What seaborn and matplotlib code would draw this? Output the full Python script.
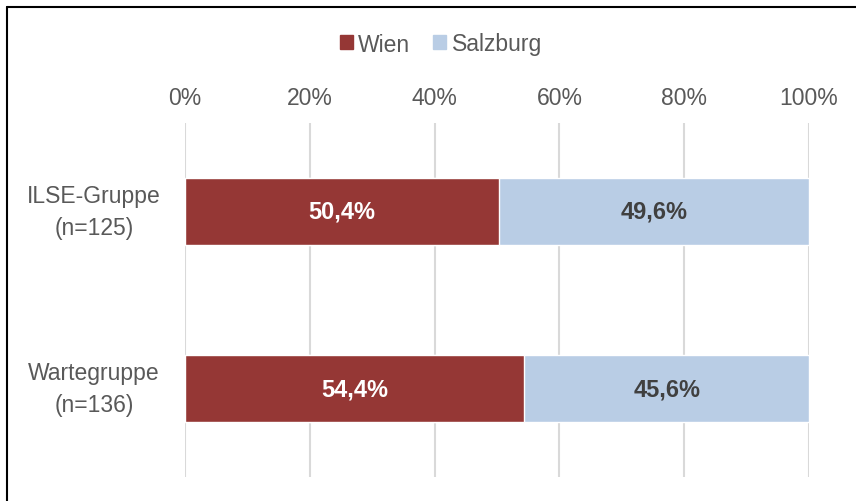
import matplotlib
matplotlib.use("Agg")
import matplotlib.pyplot as plt
import matplotlib.transforms as mtransforms
import seaborn as sns
import pandas as pd
import numpy as np
from matplotlib.patches import Rectangle

categories = ["ILSE-Gruppe\n(n=125)", "Wartegruppe\n(n=136)"]
wien = [50.4, 54.4]
salzburg = [49.6, 45.6]
series_names = ["Wien", "Salzburg"]
tick_values = [0, 20, 40, 60, 80, 100]

red = "#953735"
blue = "#B9CDE5"
gray = "#595959"

sns.set_theme(style="white")
plt.rcParams["font.family"] = ["Liberation Sans", "DejaVu Sans"]

fig = plt.figure(figsize=(8.56, 5.02), dpi=100)
ax = fig.add_axes([185/856, 1 - 478/502, (809-185)/856, (478-124)/502])

df = pd.DataFrame({"cat": categories, "Wien": wien, "Salzburg": salzburg})
df["total"] = df["Wien"] + df["Salzburg"]

sns.barplot(data=df, y="cat", x="total", color=blue, width=0.38, ax=ax,
            orient="h", saturation=1)
sns.barplot(data=df, y="cat", x="Wien", color=red, width=0.38, ax=ax,
            orient="h", saturation=1)
if ax.get_legend() is not None:
    ax.get_legend().remove()

for i, (w, s) in enumerate(zip(wien, salzburg)):
    ax.text(w / 2, i, f"{w:.1f}%".replace(".", ","), ha="center", va="center",
            color="white", fontsize=17, fontweight="bold")
    ax.text(w + s / 2, i, f"{s:.1f}%".replace(".", ","), ha="center", va="center",
            color="#404040", fontsize=17, fontweight="bold")

ax.set_xlim(0, 100)
ax.set_ylim(1.5, -0.5)
ax.set_xticks(tick_values)
ax.set_xticklabels([f"{t}%" for t in tick_values])
ax.xaxis.tick_top()
ax.tick_params(axis="x", length=0, pad=10, labelsize=16.5, labelcolor=gray)
ax.set_yticklabels([])
ax.tick_params(axis="y", length=0)
trans = mtransforms.blended_transform_factory(ax.transAxes, ax.transData)
for i, c in enumerate(categories):
    ax.text((94 - 185) / 624, i, c, transform=trans, ha="center", va="center",
            multialignment="center", fontsize=16.5, color=gray, linespacing=1.45)
ax.set_xlabel("")
ax.set_ylabel("")
ax.xaxis.grid(True, color="#D9D9D9", linewidth=1.5)
ax.set_axisbelow(True)
for sp in ax.spines.values():
    sp.set_visible(False)

handles = [Rectangle((0, 0), 1, 1, color=red), Rectangle((0, 0), 1, 1, color=blue)]
leg = fig.legend(handles, series_names, loc="center", bbox_to_anchor=(441/856, 1 - 45/502),
                 ncol=2, frameon=False, fontsize=16.5, handlelength=0.55, handleheight=0.55,
                 handletextpad=0.25, columnspacing=1.0)
for t in leg.get_texts():
    t.set_color(gray)

# outer frame (left and top edges visible)
fig.add_artist(plt.Line2D([7.5/856, 7.5/856], [0, 1 - 8/502], color="black", linewidth=1.5,
                          transform=fig.transFigure))
fig.add_artist(plt.Line2D([7.5/856, 1], [1 - 8/502, 1 - 8/502], color="black", linewidth=1.5,
                          transform=fig.transFigure))

fig.savefig("out.png", dpi=100)
